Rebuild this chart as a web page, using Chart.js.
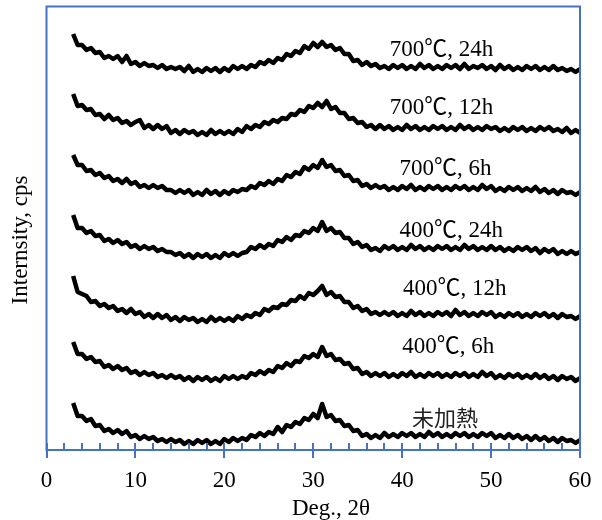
<!DOCTYPE html>
<html>
<head>
<meta charset="utf-8">
<script src="https://cdn.jsdelivr.net/npm/chart.js@4"></script>
<style>
html, body { margin: 0; padding: 0; background: #fff; }
</style>
</head>
<body>
<canvas id="chart" width="602" height="520"></canvas>
<script>
/* 2θ (deg) */
const angles = [3,3.5,4,4.5,5,5.5,6,6.5,7,7.5,8,8.5,9,9.5,10,10.5,11,11.5,12,12.5,13,13.5,14,14.5,15,15.5,16,16.5,17,17.5,
  18,18.5,19,19.5,20,20.5,21,21.5,22,22.5,23,23.5,24,24.5,25,25.5,26,26.5,27,27.5,28,28.5,29,29.5,30,30.5,31,31.5,32,32.5,
  33,33.5,34,34.5,35,35.5,36,36.5,37,37.5,38,38.5,39,39.5,40,40.5,41,41.5,42,42.5,43,43.5,44,44.5,45,45.5,46,46.5,47,47.5,
  48,48.5,49,49.5,50,50.5,51,51.5,52,52.5,53,53.5,54,54.5,55,55.5,56,56.5,57,57.5,58,58.5,59,59.5,60]

/* intensity (arb. cps, stacked) */
const i700_24 = [416,405,405,400,402,397,398,392,394,391, 394,388,394,386,388,384,387,384,385,382,
  385,381,383,381,383,379,384,378,381,378, 382,379,382,378,382,379,384,381,384,381,
  385,383,388,386,390,387,392,390,396,394, 399,397,404,401,407,403,408,403,405,400,
  402,396,396,389,390,385,388,384,386,382, 384,381,385,382,385,381,384,381,386,382,
  385,381,384,381,385,382,385,381,386,381, 384,382,385,381,384,380,385,381,384,380,
  383,380,384,381,384,380,383,380,384,380, 382,379,381,378,381]
const i700_12 = [356,344,345,340,341,335,336,331,335,330, 332,327,329,325,328,330,322,325,321,325,
  321,324,317,320,316,320,317,319,315,318, 315,320,316,319,316,319,316,321,318,324,
  321,325,323,328,326,330,328,332,331,336, 335,340,338,344,342,347,343,349,341,343,
  337,337,331,332,327,328,323,325,321,325, 321,324,320,323,320,325,321,324,320,323,
  320,324,321,324,320,323,320,325,321,324, 320,323,320,324,321,323,319,322,319,323,
  320,323,319,322,319,323,320,323,319,321, 318,322,317,320,317]
const i700_6 = [295,285,285,279,280,275,277,272,274,269, 271,267,271,266,268,263,265,262,265,262,
  264,260,260,257,260,257,260,255,258,255, 260,256,259,255,259,256,260,258,261,260,
  264,262,267,265,269,266,271,269,275,273, 278,276,283,280,285,282,290,283,285,279,
  280,274,275,269,270,264,266,262,265,262, 264,260,263,260,264,261,265,260,263,260,
  264,261,264,260,263,260,264,261,264,260, 263,260,265,261,264,259,262,259,263,260,
  263,259,262,259,263,258,261,257,260,256, 260,257,258,255,258]
const i400_24 = [235,222,222,217,219,214,215,209,211,207, 210,206,208,203,205,201,204,201,203,199,
  201,198,198,195,197,193,196,192,196,193, 196,192,195,192,197,194,197,194,197,198,
  203,201,205,202,206,204,210,208,213,210, 215,214,219,217,222,219,228,219,222,217,
  218,212,212,206,208,203,205,200,202,199, 204,201,204,200,203,200,205,201,204,200,
  203,200,204,201,204,200,203,200,205,201, 204,200,203,200,204,200,203,199,202,199,
  203,200,203,199,202,197,201,198,201,196, 199,196,199,196,198]
const i400_12 = [174,158,156,154,148,149,144,146,142,144, 139,141,137,141,136,138,133,136,132,136,
  132,135,130,133,129,133,130,132,128,131, 128,133,129,132,129,132,129,134,131,135,
  133,137,135,141,139,143,142,146,145,150, 149,154,151,157,155,159,164,155,158,153,
  154,148,148,142,144,139,141,136,138,135, 138,135,138,134,137,134,139,135,138,134,
  137,134,138,135,138,134,140,135,138,134, 137,134,138,135,138,133,136,133,137,134,
  137,133,136,133,137,134,137,133,136,132, 136,133,134,131,134]
const i400_6 = [108,96,96,91,93,88,89,83,85,81, 84,80,82,77,79,75,78,75,77,73,
  75,72,75,72,74,70,73,69,73,70, 73,69,72,69,74,71,74,71,74,72,
  77,75,79,76,80,78,84,82,87,84, 89,88,94,92,96,93,103,94,96,90,
  91,86,87,81,82,76,78,74,77,74, 77,73,76,73,77,74,78,73,76,73,
  77,74,77,73,76,73,77,74,77,73, 76,73,78,74,77,72,75,72,76,73,
  76,72,75,72,76,72,75,71,74,70, 74,71,73,69,72]
const iRaw = [47,34,34,29,31,24,25,19,21,17, 20,16,19,13,15,11,14,11,13,9,
  11,8,11,8,10,6,9,6,10,7, 10,6,9,6,11,8,12,9,12,10,
  15,13,17,14,18,16,23,18,25,23, 28,26,32,30,36,32,46,33,35,29,
  30,24,25,19,20,14,16,12,15,12, 17,13,16,13,17,14,17,13,16,13,
  18,14,17,13,16,13,17,14,17,13, 16,13,17,14,17,12,15,12,16,12,
  15,11,14,10,14,10,13,9,12,8, 12,9,10,7,10]

const seriesNames = ['700℃, 24h', '700℃, 12h', '700℃, 6h', '400℃, 24h', '400℃, 12h', '400℃, 6h', '未加熱']
const seriesValues = [i700_24, i700_12, i700_6, i400_24, i400_12, i400_6, iRaw]

/* where each name is written (deg, intensity) */
const labelDeg = [38.6, 38.6, 39.7, 39.7, 40.1, 40.0, 41.1]
const labelLevel = [400.5, 342, 281, 219, 161, 103, 32]

const xMajor = [0, 10, 20, 30, 40, 50, 60]
const xMinor = [2,4,6,8,12,14,16,18,22,24,26,28,32,34,36,38,42,44,46,48,52,54,56,58]

const AXIS = '#4472c4'
const SERIF = "'Liberation Serif', 'Noto Sans CJK JP', serif"

/* marco azul, marcas del eje y textos */
const decor = {
  id: 'decor',
  afterDatasetsDraw(chart) {
    const { ctx, chartArea: a, scales: { x, y } } = chart
    ctx.save()
    ctx.strokeStyle = AXIS
    ctx.lineWidth = 2
    ctx.strokeRect(a.left, a.top, a.right - a.left, a.bottom - a.top)
    ctx.beginPath()
    xMajor.forEach(v => {
      const px = Math.round(x.getPixelForValue(v))
      ctx.moveTo(px, a.bottom - 7)
      ctx.lineTo(px, a.bottom + 8)
    })
    xMinor.forEach(v => {
      const px = Math.round(x.getPixelForValue(v))
      ctx.moveTo(px, a.bottom - 7)
      ctx.lineTo(px, a.bottom)
    })
    ctx.stroke()

    ctx.textBaseline = 'middle'
    ctx.textAlign = 'left'
    seriesNames.forEach((name, i) => {
      if (name === '未加熱') {
        ctx.font = "22px 'Noto Sans CJK JP'"
        ctx.fillStyle = '#222'
      } else {
        ctx.font = '23px ' + SERIF
        ctx.fillStyle = '#000'
      }
      ctx.fillText(name, x.getPixelForValue(labelDeg[i]), y.getPixelForValue(labelLevel[i]))
    })

    ctx.fillStyle = '#000'
    ctx.font = '23px ' + SERIF
    ctx.textAlign = 'center'
    ctx.textBaseline = 'alphabetic'
    ctx.fillText('Deg., 2θ', 331, 515)

    ctx.translate(21, 240)
    ctx.rotate(-Math.PI / 2)
    ctx.textBaseline = 'middle'
    ctx.fillText('Internsity, cps', 0, 0)
    ctx.restore()
  }
}

const datasets = seriesValues.map((vals, i) => ({
  label: seriesNames[i],
  data: angles.map((a, k) => ({ x: a, y: vals[k] })),
  borderColor: '#000',
  borderWidth: 4.5,
  borderJoinStyle: 'round',
  pointRadius: 0,
  tension: 0,
  fill: false
}))

new Chart(document.querySelector('#chart'), {
  type: 'line',
  data: { datasets },
  plugins: [decor],
  options: {
    responsive: false,
    animation: false,
    devicePixelRatio: 1,
    layout: { padding: { top: 6.5, right: 22, left: 0, bottom: 0 } },
    plugins: { legend: { display: false }, tooltip: { enabled: false } },
    scales: {
      x: {
        type: 'linear',
        min: 0,
        max: 60,
        afterFit: (s) => { s.height = 70; s.paddingLeft = 0; s.paddingRight = 0 },
        grid: { display: false, drawTicks: false },
        border: { display: false },
        ticks: {
          stepSize: 10,
          autoSkip: false,
          maxRotation: 0,
          padding: 17,
          color: '#000',
          font: { family: SERIF, size: 23 }
        }
      },
      y: {
        min: 0,
        max: 443.5,
        afterFit: (s) => { s.width = 46.5 },
        grid: { display: false, drawTicks: false },
        border: { display: false },
        ticks: { display: false }
      }
    }
  }
})
</script>
</body>
</html>
